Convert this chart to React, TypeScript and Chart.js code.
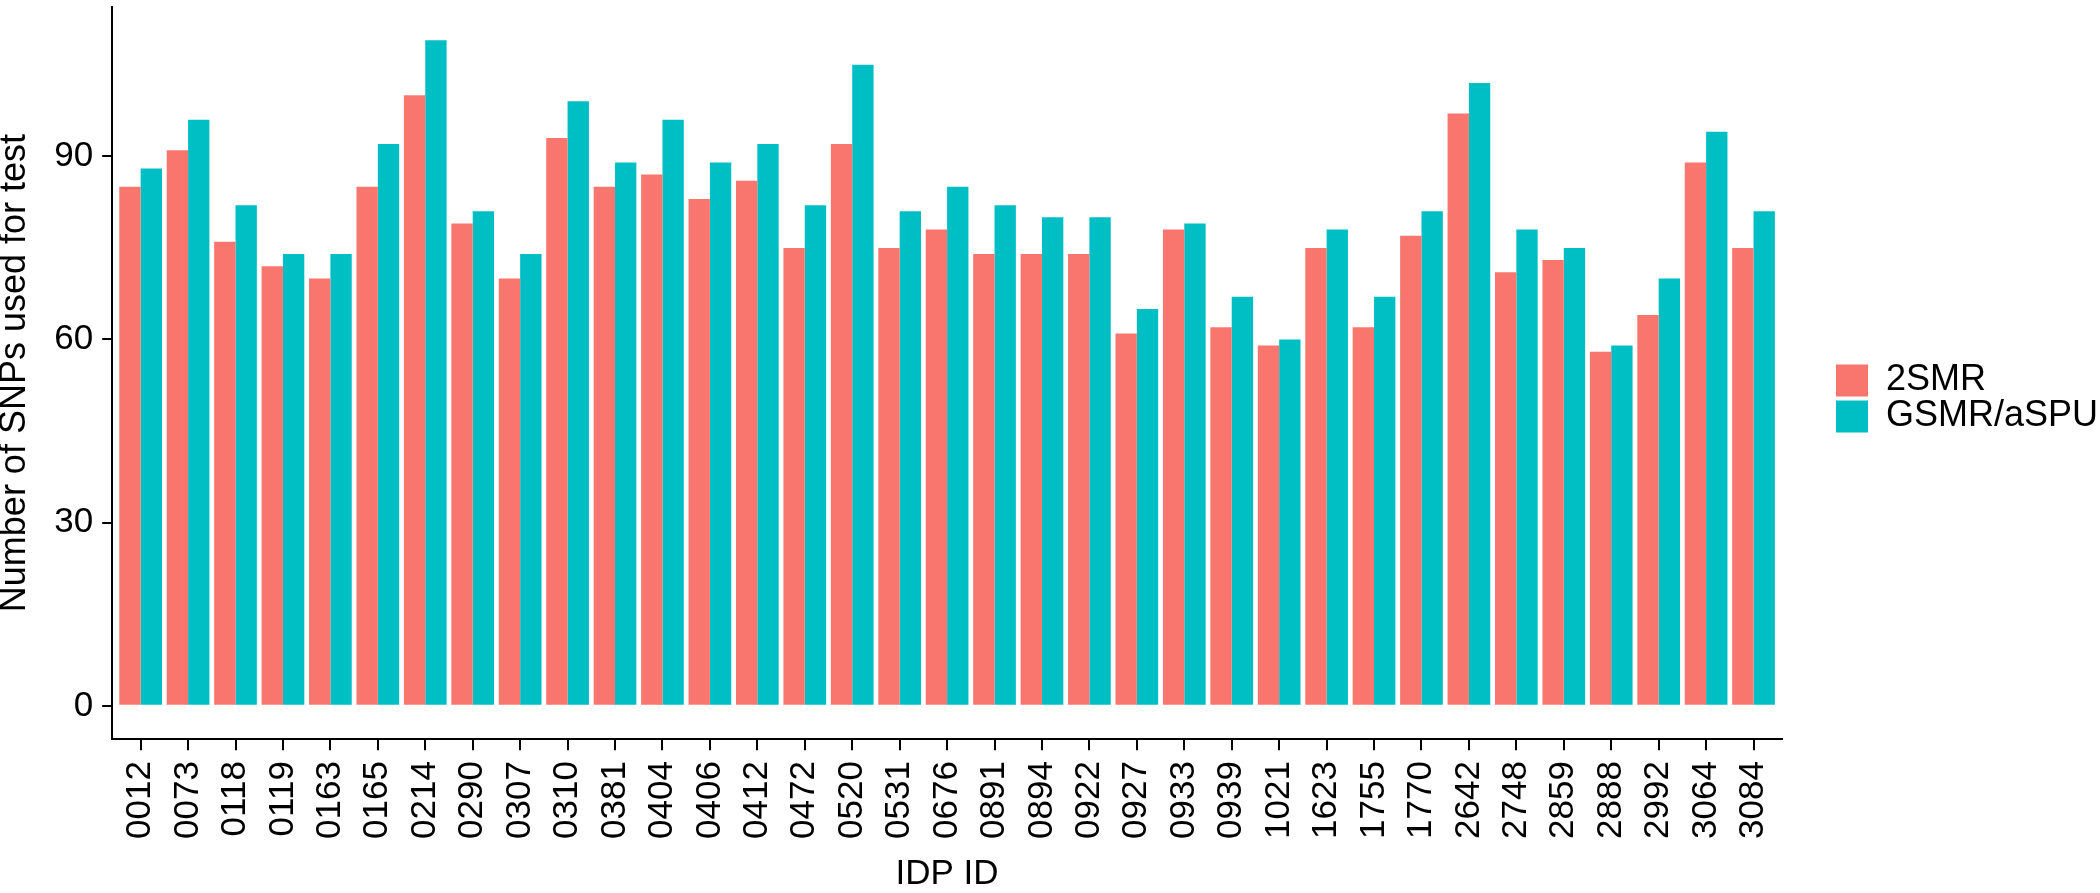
import React, { useEffect, useRef } from 'react';
import { Chart, registerables } from 'chart.js';

Chart.register(...registerables);

const categories = ['0012', '0073', '0118', '0119', '0163', '0165', '0214', '0290', '0307', '0310', '0381', '0404', '0406', '0412', '0472', '0520', '0531', '0676', '0891', '0894', '0922', '0927', '0933', '0939', '1021', '1623', '1755', '1770', '2642', '2748', '2859', '2888', '2992', '3064', '3084'];
const twoSMR = [85, 91, 76, 72, 70, 85, 100, 79, 70, 93, 85, 87, 83, 86, 75, 92, 75, 78, 74, 74, 74, 61, 78, 62, 59, 75, 62, 77, 97, 71, 73, 58, 64, 89, 75];
const gsmrASPU = [88, 96, 82, 74, 74, 92, 109, 81, 74, 99, 89, 96, 89, 92, 82, 105, 81, 85, 82, 80, 80, 65, 79, 67, 60, 78, 67, 81, 102, 78, 75, 59, 70, 94, 81];
const seriesNames = ['2SMR', 'GSMR/aSPU'];
const seriesColors = ['#F8766D', '#00BFC4'];
const yTicks = [0, 30, 60, 90];
const xTitle = 'IDP ID';
const yTitle = 'Number of SNPs used for test';

const FONT = "'Liberation Sans', Arial, sans-serif";

export default function App() {
  const ref = useRef<HTMLCanvasElement | null>(null);

  useEffect(() => {
    if (!ref.current) return;
    Chart.defaults.font.family = FONT;
    Chart.defaults.color = '#000';
    const yMax = Math.max(...twoSMR, ...gsmrASPU);
    const chart = new Chart(ref.current, {
      type: 'bar',
      data: {
        datasets: [
          {
            label: seriesNames[0],
            data: categories.map((_, i) => ({ x: i, y: twoSMR[i] })),
            backgroundColor: seriesColors[0],
            borderWidth: 0,
            categoryPercentage: 0.9,
            barPercentage: 1.0,
          },
          {
            label: seriesNames[1],
            data: categories.map((_, i) => ({ x: i, y: gsmrASPU[i] })),
            backgroundColor: seriesColors[1],
            borderWidth: 0,
            categoryPercentage: 0.9,
            barPercentage: 1.0,
          },
        ],
      },
      options: {
        responsive: false,
        animation: false,
        layout: { padding: { top: 7, left: 0, right: 0, bottom: 0 } },
        plugins: {
          tooltip: { enabled: false },
          legend: {
            position: 'right',
            align: 'center',
            fullSize: false,
            maxWidth: 264,
            title: { display: true, text: ' ', padding: 0, font: { size: 51, lineHeight: 1 } },
            labels: {
              boxWidth: 32,
              boxHeight: 32,
              padding: 0,
              color: '#000',
              font: { size: 36, lineHeight: 1, family: FONT },
            },
          },
        },
        scales: {
          x: {
            type: 'linear',
            min: -0.6,
            max: categories.length - 1 + 0.6,
            offset: false,
            afterBuildTicks: (s: any) => {
              s.ticks = categories.map((_, i) => ({ value: i }));
            },
            ticks: {
              autoSkip: false,
              minRotation: 90,
              maxRotation: 90,
              padding: 11,
              color: '#000',
              font: { size: 35, family: FONT },
              callback: (_v: any, i: number) => categories[i],
            },
            grid: {
              display: true,
              drawOnChartArea: false,
              drawTicks: true,
              tickLength: 11,
              color: '#000',
              lineWidth: 2,
              offset: false,
            },
            border: { display: true, color: '#000', width: 2 },
            title: {
              display: true,
              text: xTitle,
              color: '#000',
              font: { size: 35, lineHeight: 1, family: FONT },
              padding: { top: 7, bottom: 1 },
            },
          },
          y: {
            type: 'linear',
            min: -0.05 * yMax,
            max: yMax * 1.05,
            afterBuildTicks: (s: any) => {
              s.ticks = yTicks.map((v) => ({ value: v }));
            },
            afterFit: (s: any) => {
              s.paddingTop = 0;
              s.paddingBottom = 0;
            },
            ticks: {
              padding: 9,
              color: '#000',
              font: { size: 35, family: FONT },
            },
            grid: {
              display: true,
              drawOnChartArea: false,
              drawTicks: true,
              tickLength: 10,
              color: '#000',
              lineWidth: 2,
            },
            border: { display: true, color: '#000', width: 2 },
            title: {
              display: true,
              text: yTitle,
              color: '#000',
              font: { size: 36, lineHeight: 0.84, family: FONT },
              padding: { top: 0, bottom: 15 },
            },
          },
          gap: {
            type: 'linear',
            position: 'right',
            display: true,
            ticks: { display: false },
            grid: { display: false, drawTicks: false },
            border: { display: false },
            afterFit: (s: any) => {
              s.width = 54;
            },
          },
        },
      } as any,
    });
    return () => chart.destroy();
  }, []);

  return (
    <div style={{ position: 'fixed', left: 0, top: 0, width: 2100, height: 893, background: '#fff' }}>
      <canvas ref={ref} width={2100} height={893} style={{ width: 2100, height: 893, display: 'block' }} />
    </div>
  );
}
